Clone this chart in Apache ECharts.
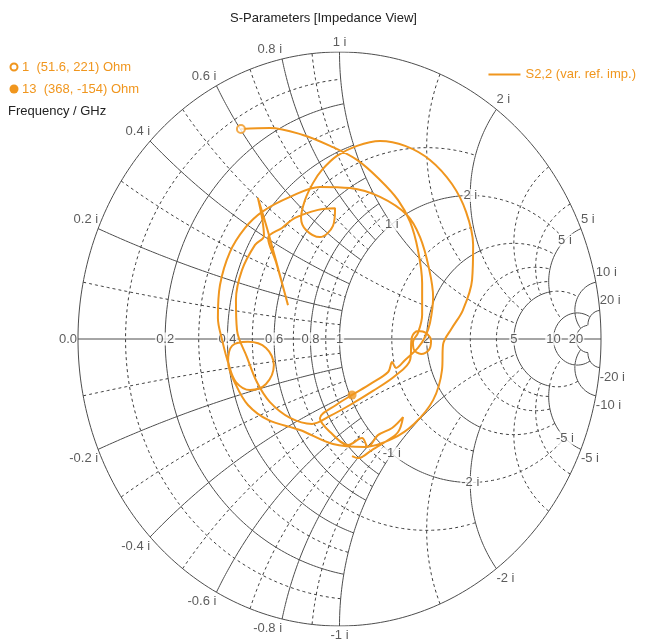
<!DOCTYPE html>
<html>
<head>
<meta charset="utf-8">
<script src="https://cdn.jsdelivr.net/npm/echarts@6/dist/echarts.min.js"></script>
<style>
html,body{margin:0;padding:0;background:#fff;}
#smith{width:647px;height:641px;}
</style>
</head>
<body>
<div id="smith"></div>
<script>
// S2,2 trace, reflection coefficient (Re, Im)
var traceRe = [-0.377,-0.266,-0.140,-0.036,0.067,0.155,0.224,0.270,0.300,0.316,0.316,0.300,
	0.281,0.285,0.312,0.342,0.350,0.331,0.300,0.277,0.270,0.212,0.128,0.040,-0.036,-0.105,
	-0.189,-0.266,-0.316,-0.354,-0.392,-0.396,-0.373,-0.323,-0.289,-0.312,-0.273,-0.197,-0.243,
	-0.273,-0.220,-0.170,-0.082,-0.017,-0.025,-0.075,-0.128,-0.147,-0.132,-0.101,-0.067,-0.010,
	0.067,0.155,0.251,0.346,0.430,0.484,0.511,0.507,0.472,0.430,0.396,0.392,0.358,0.285,0.201,
	0.098,-0.025,-0.151,-0.273,-0.350,-0.396,-0.426,-0.411,-0.350,-0.281,-0.251,-0.281,-0.342,
	-0.396,-0.423,-0.449,-0.465,-0.457,-0.419,-0.361,-0.296,-0.189,-0.075,0.040,0.155,0.258,
	0.308,0.342,0.358,0.346,0.327,0.300,0.251,0.216,0.201,0.186,0.117,0.048,-0.013,-0.075,
	-0.036,0.033,0.086,0.109,0.147,0.201,0.243,0.224,0.174,0.124,0.071,0.048];
var traceIm = [0.732,0.735,0.711,0.673,0.624,0.554,0.484,0.408,0.310,0.195,0.084,0.021,
	-0.011,-0.038,-0.052,-0.038,-0.007,0.021,0.028,0.007,-0.073,-0.129,-0.181,-0.230,-0.268,-0.296,
	-0.275,-0.220,-0.150,-0.063,0.031,0.136,0.240,0.328,0.359,0.491,0.373,0.118,0.268,
	0.352,0.387,0.422,0.450,0.456,0.394,0.355,0.380,0.422,0.484,0.544,0.589,0.638,
	0.673,0.690,0.673,0.624,0.540,0.443,0.328,0.206,0.101,0.038,-0.020,-0.108,-0.213,-0.296,-0.348,
	-0.376,-0.366,-0.317,-0.282,-0.230,-0.160,-0.080,-0.024,-0.010,-0.031,-0.091,-0.157,-0.178,
	-0.150,-0.091,-0.003,0.073,0.188,0.303,0.387,0.443,0.495,0.530,0.526,0.495,0.432,
	0.355,0.247,0.146,0.056,0.007,-0.031,-0.073,-0.101,-0.080,-0.115,-0.157,-0.195,-0.230,-0.276,
	-0.324,-0.369,-0.345,-0.376,-0.335,-0.310,-0.272,-0.324,-0.359,-0.387,-0.415,-0.408];

// markers: 1 (51.6, 221) Ohm and 13 (368, -154) Ohm
var markerNames = ['1', '13'];
var markerRe = [-0.377, 0.048];
var markerIm = [0.732, -0.195];

// grid labels
var axisVals = [0.2, 0.4, 0.6, 0.8, 1, 2, 5, 10, 20];
var axisText = ['0.2', '0.4', '0.6', '0.8', '1', '2', '5', '10', '20'];
var rimVals = [0.2, 0.4, 0.6, 0.8, 1, 2, 5, 10, 20];
var innerVals = [1, 2, 5];

var orange = '#f0961e';
var font = 'Liberation Sans, Arial, sans-serif';

// z = r + jx  ->  gamma
function gam(r, x)
{
	var d = (r + 1) * (r + 1) + x * x;
	return [(r * r + x * x - 1) / d, 2 * x / d];
}
function rArc(r, x1, x2)
{
	var p = [], n = 160;
	for (var i = 0; i <= n; i++) p.push(gam(r, x1 + (x2 - x1) * i / n));
	return p;
}
function xArc(x, r1, r2)
{
	var p = [], n = 160;
	for (var i = 0; i <= n; i++) p.push(gam(r1 + (r2 - r1) * i / n, x));
	return p;
}

var series = [];
function gridLine(pts, major)
{
	series.push({
		type: 'line', data: pts, symbol: 'none', silent: true, z: 1,
		lineStyle: major ? {color: '#4d4d4d', width: 1} : {color: '#3c3c3c', width: 1, type: [3, 3]}
	});
}

// adaptive grid (zones like the CST smith chart)
var levels = [
	{rMax: 1, xMax: 1, step: 0.1, major: [0.2, 0.4, 0.6, 0.8, 1]},
	{rMax: 2, xMax: 2, step: 0.5, major: [1, 2]},
	{rMax: 5, xMax: 5, step: 1, major: [5]},
	{rMax: 10, xMax: 10, step: 5, major: [10]},
	{rMax: 20, xMax: 20, step: 10, major: [10, 20]}
];
var prevR = 0, prevX = 0;
levels.forEach(function (L) {
	var n = Math.round(L.rMax / L.step);
	for (var k = 1; k <= n; k++) {
		var v = Math.round(k * L.step * 100) / 100;
		var mj = L.major.indexOf(v) >= 0;
		if (v <= prevR + 1e-9) {
			gridLine(rArc(v, prevX, L.xMax), mj);
			gridLine(rArc(v, -L.xMax, -prevX), mj);
		} else {
			gridLine(rArc(v, -L.xMax, L.xMax), mj);
		}
		if (v <= prevX + 1e-9) {
			gridLine(xArc(v, prevR, L.rMax), mj);
			gridLine(xArc(-v, prevR, L.rMax), mj);
		} else {
			gridLine(xArc(v, 0, L.rMax), mj);
			gridLine(xArc(-v, 0, L.rMax), mj);
		}
	}
	prevR = L.rMax; prevX = L.xMax;
});

// outer circle and real axis
var rim = [];
for (var a = 0; a <= 360; a++) rim.push([Math.cos(a * Math.PI / 180), Math.sin(a * Math.PI / 180)]);
gridLine(rim, true);
gridLine([[-1, 0], [1, 0]], true);

var lblStyle = {show: true, color: '#333', fontSize: 13, fontFamily: font};

// real axis labels
var axisData = [{value: [-1, 0], label: Object.assign({}, lblStyle, {formatter: '0.0', position: [0, 0], align: 'right', verticalAlign: 'middle', offset: [-1, 0]})}];
axisVals.forEach(function (v, i) {
	axisData.push({value: gam(v, 0), label: Object.assign({}, lblStyle, {
		formatter: axisText[i], position: 'inside', backgroundColor: '#fff', padding: [0, 1]})});
});

// reactance labels on the rim and on the r=1 circle
var rimData = [];
rimVals.forEach(function (v) {
	[v, -v].forEach(function (x) {
		var g = gam(0, x);
		var al = Math.abs(g[0]) < 0.05 ? 'center' : (g[0] < 0 ? 'right' : 'left');
		rimData.push({value: g, label: Object.assign({}, lblStyle, {
			formatter: x + ' i', position: [0, 0], align: al,
			verticalAlign: x > 0 ? 'bottom' : 'top', offset: [0, x > 0 ? -3 : 3]})});
	});
});
innerVals.forEach(function (v) {
	[v, -v].forEach(function (x) {
		rimData.push({value: gam(1, x), label: Object.assign({}, lblStyle, {
			formatter: x + ' i', position: 'inside', backgroundColor: '#fff', padding: [0, 1]})});
	});
});

series.push({type: 'scatter', data: axisData, symbolSize: 0, silent: true, z: 3});
series.push({type: 'scatter', data: rimData, symbolSize: 0, silent: true, z: 3});

series.push({
	name: 'S2,2 (var. ref. imp.)', type: 'line', symbol: 'none', smooth: 0.35, z: 5,
	data: traceRe.map(function (v, i) { return [v, traceIm[i]]; }),
	lineStyle: {color: orange, width: 2}, itemStyle: {color: orange}
});
series.push({
	type: 'scatter', z: 6, silent: true,
	data: [
		{value: [markerRe[0], markerIm[0]], symbolSize: 8, itemStyle: {color: '#fff', borderColor: orange, borderWidth: 2}},
		{value: [markerRe[1], markerIm[1]], symbolSize: 9, itemStyle: {color: orange}}
	]
});

var chart = echarts.init(document.getElementById('smith'));
option = {
	animation: false,
	title: {text: 'S-Parameters [Impedance View]', left: 'center', top: 7,
		textStyle: {fontSize: 13, fontWeight: 'normal', color: '#222', fontFamily: font}},
	legend: {data: ['S2,2 (var. ref. imp.)'], right: 6, top: 63, icon: 'rect', itemWidth: 32, itemHeight: 2,
		itemGap: 4, textStyle: {color: orange, fontSize: 13, fontFamily: font}},
	grid: {left: 78, right: 46, top: 52, bottom: 15},
	xAxis: {type: 'value', min: -1, max: 1, show: false},
	yAxis: {type: 'value', min: -1, max: 1, show: false},
	graphic: [
		{type: 'circle', shape: {cx: 14, cy: 67, r: 3.5}, style: {fill: '#fff', stroke: orange, lineWidth: 2}},
		{type: 'text', x: 22, y: 67, style: {text: markerNames[0] + '  (51.6, 221) Ohm', fill: orange, font: '13px ' + font, textVerticalAlign: 'middle'}},
		{type: 'circle', shape: {cx: 14, cy: 89, r: 4.5}, style: {fill: orange}},
		{type: 'text', x: 22, y: 89, style: {text: markerNames[1] + '  (368, -154) Ohm', fill: orange, font: '13px ' + font, textVerticalAlign: 'middle'}},
		{type: 'text', x: 8, y: 111, style: {text: 'Frequency / GHz', fill: '#222', font: '13px ' + font, textVerticalAlign: 'middle'}}
	],
	series: series
};
chart.setOption(option);
</script>
</body>
</html>
